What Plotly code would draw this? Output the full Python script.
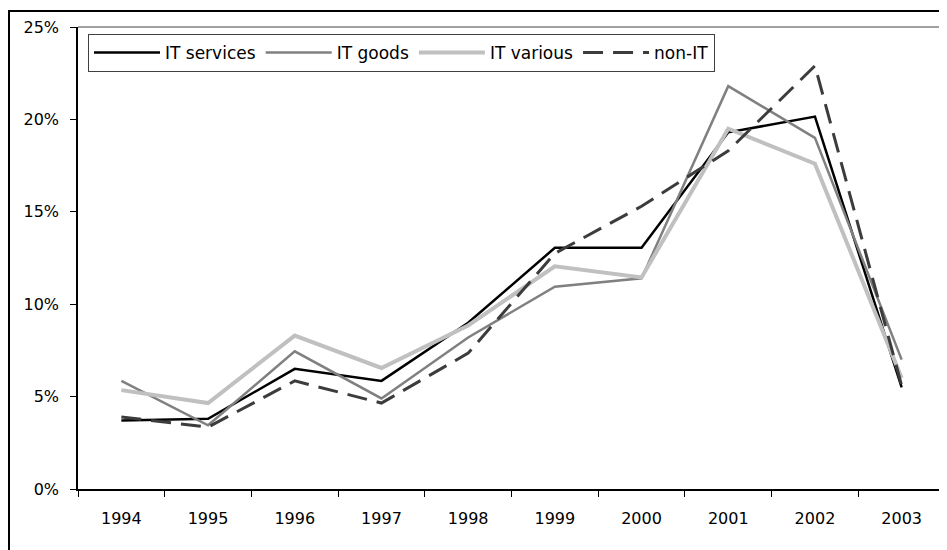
import plotly.graph_objects as go

years = ["1994", "1995", "1996", "1997", "1998", "1999", "2000", "2001", "2002", "2003"]
it_services = [3.7, 3.8, 6.5, 5.85, 9.0, 13.05, 13.05, 19.3, 20.15, 5.5]
it_goods = [5.85, 3.45, 7.45, 4.9, 8.2, 10.95, 11.4, 21.8, 19.0, 7.0]
it_various = [5.35, 4.65, 8.3, 6.55, 8.85, 12.05, 11.45, 19.5, 17.6, 6.0]
non_it = [3.9, 3.35, 5.85, 4.65, 7.35, 12.75, 15.3, 18.3, 22.9, 5.6]
y_ticks = [0, 5, 10, 15, 20, 25]
y_tick_labels = ["0%", "5%", "10%", "15%", "20%", "25%"]

FONT = "'DejaVu Sans', sans-serif"
FS = 16

fig = go.Figure()
fig.add_trace(go.Scatter(x=years, y=it_services, name="IT services", mode="lines",
                         line=dict(color="#000000", width=2.5)))
fig.add_trace(go.Scatter(x=years, y=it_goods, name="IT goods", mode="lines",
                         line=dict(color="#808080", width=2.5)))
fig.add_trace(go.Scatter(x=years, y=it_various, name="IT various", mode="lines",
                         line=dict(color="#c0c0c0", width=4)))
fig.add_trace(go.Scatter(x=years, y=non_it, name="non-IT", mode="lines",
                         line=dict(color="#3c3c3c", width=3, dash="20px,10px")))

# page body has an 8px margin: figure coords = screen coords - 8
OFF = 8
W, H = 947, 550
L, T = 78 - OFF, 24 - OFF
R = W - (945 - OFF)
B = H - (489 - OFF)
pw = W - L - R
ph = H - T - B

def px(x):
    return (x - OFF - L) / pw

def py(y):
    return 1 - (y - OFF - T) / ph

fig.update_layout(
    width=W, height=H,
    margin=dict(l=L, r=R, t=T, b=B, pad=0),
    paper_bgcolor="white", plot_bgcolor="white",
    font=dict(family=FONT, size=FS, color="#000000"),
    showlegend=True,
    legend=dict(orientation="h", x=px(88), y=py(31), xanchor="left", yanchor="top",
                bordercolor="#404040", borderwidth=1, bgcolor="white",
                itemwidth=66, font=dict(size=17, family=FONT),
                tracegroupgap=0, traceorder="normal"),
    xaxis=dict(type="category", range=[-0.5, 9.5], showgrid=False, zeroline=False,
               showline=True, linecolor="#000000", linewidth=1.5,
               ticks="outside", ticklen=6, tickcolor="#000000", tickson="boundaries",
               tickfont=dict(size=FS, family=FONT), ticklabelstandoff=14),
    yaxis=dict(range=[0, 25], tickmode="array", tickvals=y_ticks, ticktext=y_tick_labels,
               showgrid=False, zeroline=False, showline=True, linecolor="#000000",
               linewidth=1.5, ticks="outside", ticklen=6, tickcolor="#000000",
               tickfont=dict(size=FS, family=FONT), ticklabelstandoff=8),
    shapes=[
        dict(type="line", xref="paper", yref="paper", x0=0, x1=1, y0=1, y1=1,
             line=dict(color="#808080", width=1.5)),
        dict(type="line", xref="paper", yref="paper", x0=1, x1=1, y0=0, y1=1,
             line=dict(color="#808080", width=1.5)),
        dict(type="rect", xref="paper", yref="paper", x0=px(9), x1=1.2, y0=-0.3, y1=py(8),
             line=dict(color="#000000", width=2)),
    ],
)

fig.write_html("out.html")
